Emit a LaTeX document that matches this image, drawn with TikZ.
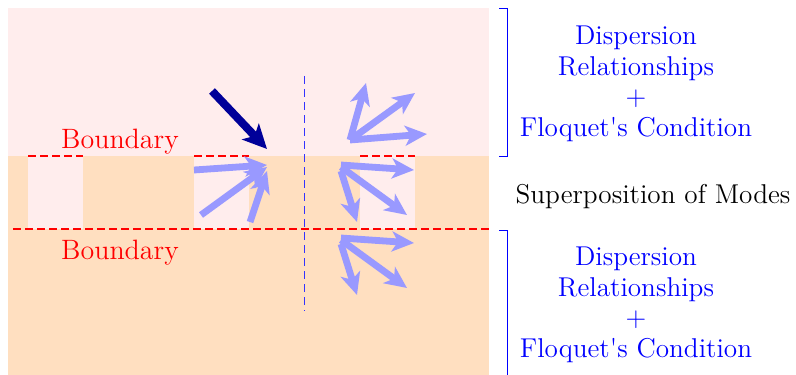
\documentclass[tikz,border=0pt]{standalone}
\usepackage{fontspec}
\usetikzlibrary{arrows.meta}
\definecolor{slabpink}{RGB}{255,237,237}
\definecolor{slabpeach}{RGB}{255,223,192}
\definecolor{wavelight}{RGB}{153,153,255}
\definecolor{wavedark}{RGB}{0,0,153}

\begin{document}
\begin{tikzpicture}[x=0.5pt, y=-0.5pt,
  bnd/.style={red, dash pattern=on 4pt off 2pt, line width=0.6pt},
  axis/.style={blue!80, dash pattern=on 4pt off 2.5pt, line width=0.5pt},
  wave/.style={wavelight, line width=3.4pt, -{Stealth[length=11pt,width=10pt,inset=3pt]}},
  incident/.style={wavedark, line width=4pt, -{Stealth[length=12pt,width=11.5pt,inset=3pt]}},
  lbl/.style={red, font=\fontsize{14}{18}\selectfont, anchor=base},
  note/.style={blue, font=\fontsize{13.6}{15.25}\selectfont, align=center, anchor=base}]
  \useasboundingbox (0,0) rectangle (796,374);
  % the two half spaces and the slab
  \fill[slabpink] (8,8) rectangle (489,156);
  \fill[slabpeach] (8,156) rectangle (489,376);
  \foreach \x in {28,194,360} {
    \fill[slabpink] (\x,156) rectangle (\x+55,229);
    \draw[bnd] (\x,156) -- (\x+55,156);
  }
  \draw[bnd] (13,229) -- (489,229);
  \draw[axis] (304,76) -- (304,311);
  \node[lbl] (bndtop) at (120,148) {Boundary};
  \node[lbl] (bndbot) at (120,259) {Boundary};
  % incident wave and field in the slab
  \draw[incident] (212,91) -- (267,149);
  \foreach \sx/\sy/\ty in {194/170/165, 201/215/167, 250/222/171}
    \draw[wave] (\sx,\sy) -- (267,\ty);
  % reflected and transmitted modes
  \foreach \tx/\ty in {366/83, 415/93, 427/134}
    \draw[wave] (350,140) -- (\tx,\ty);
  \foreach \dy in {0,73}
    \foreach \sy/\tx/\ty in {165/414/170, 167/407/215, 171/357/222}
      \draw[wave] (341,\sy+\dy) -- (\tx,\ty+\dy);
  % conditions
  \draw[blue, line width=0.5pt] (499,9) -- (507,9) -- (507,156) -- (499,156);
  \draw[blue, line width=0.5pt] (499,230) -- (507,230) -- (507,378);
  \node[note] (relup) at (636,136) {Dispersion\\Relationships\\+\\Floquet\textquotesingle s Condition};
  \node[note] (reldown) at (636,357) {Dispersion\\Relationships\\+\\Floquet\textquotesingle s Condition};
  \node[note, black] (modes) at (653,203) {Superposition of Modes};
\end{tikzpicture}
\end{document}
